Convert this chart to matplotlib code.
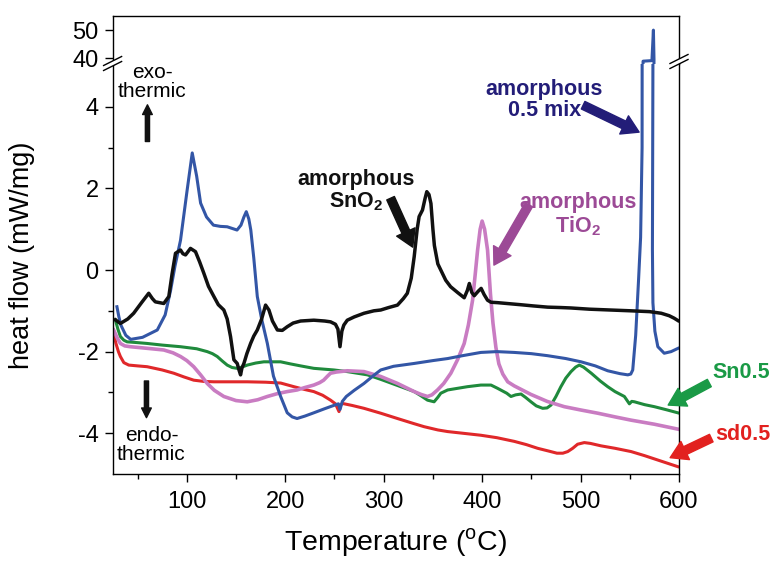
import matplotlib
matplotlib.use("Agg")
import matplotlib.pyplot as plt
from matplotlib.lines import Line2D
from matplotlib.patches import Polygon

# ---------------------------------------------------------------- data
black_x = [27.4, 32.5, 40, 46, 54, 61.3, 65, 68, 76.6, 81.7, 85, 88.5, 93.6, 96, 98.7, 103.7, 108.8,
           113, 117.3, 122, 127.5, 132, 137.6, 141, 144.4, 147.8, 151.2, 153, 154.6, 156, 158, 161,
           164.8, 168, 171.6, 176, 180, 183.4, 187, 192, 197, 202, 208, 215.6, 229, 240, 246, 251,
           253.5, 255.6, 257.5, 259.5, 263, 270, 280, 290, 297, 305, 314, 320, 324, 328, 331, 334,
           336, 339.4, 342, 343.8, 346, 348, 350, 351.5, 355, 358, 363, 368, 375, 381.8, 385, 387,
           389.5, 392, 396, 399, 402, 405.5, 409, 415.7, 425, 439, 452, 466.6, 480, 490, 509, 530,
           551.3, 570, 582, 590, 595, 599]
black_y = [-1.22, -1.31, -1.2, -1.06, -0.8, -0.57, -0.7, -0.78, -0.82, -0.65, -0.1, 0.41, 0.49, 0.4,
           0.37, 0.53, 0.45, 0.2, -0.08, -0.4, -0.65, -0.85, -0.98, -1.2, -1.63, -2.2, -2.29, -2.45,
           -2.57, -2.4, -2.29, -2.05, -1.8, -1.62, -1.47, -1.2, -0.86, -0.98, -1.25, -1.47, -1.48,
           -1.39, -1.3, -1.25, -1.23, -1.25, -1.27, -1.33, -1.45, -1.88, -1.5, -1.35, -1.23, -1.15,
           -1.06, -1.0, -0.98, -0.92, -0.86, -0.7, -0.57, -0.2, 0.33, 1.0, 1.31, 1.47, 1.75, 1.92,
           1.85, 1.63, 1.0, 0.6, 0.15, 0.0, -0.25, -0.41, -0.55, -0.68, -0.5, -0.33, -0.55, -0.63,
           -0.52, -0.45, -0.6, -0.74, -0.79, -0.8, -0.82, -0.85, -0.88, -0.91, -0.92, -0.93, -0.96,
           -0.98, -1.0, -1.02, -1.06, -1.12, -1.18, -1.24]

blue_x = [29, 31, 33, 38, 43, 55, 70, 78, 83.5, 88, 93.6, 100, 105.5, 110, 114, 120, 127, 134, 141,
          146, 151, 155, 158, 160.4, 163, 165, 168, 171.6, 176, 181.8, 188, 195.3, 202, 207, 212, 220,
          229, 240, 248, 254, 255.6, 258, 262, 270, 280, 290, 297, 310, 331, 350, 365, 380, 398.7,
          415, 432.6, 450, 466.6, 485, 500.5, 515, 527.6, 540, 548, 551, 553, 556, 559, 561, 562.5,
          563.5, 568, 572.5, 574, 574.6, 573.5, 573, 573.5, 575.5, 578.5, 585, 592, 599]
blue_y = [-0.9, -1.15, -1.35, -1.6, -1.7, -1.65, -1.47, -1.1, -0.5, 0.1, 0.73, 1.9, 2.87, 2.3, 1.64,
          1.3, 1.1, 1.07, 1.06, 1.02, 0.98, 1.1, 1.3, 1.43, 1.25, 0.98, 0.3, -0.65, -1.2, -1.8, -2.6,
          -3.1, -3.5, -3.6, -3.64, -3.58, -3.5, -3.4, -3.33, -3.28, -3.42, -3.22, -3.1, -2.95, -2.78,
          -2.58, -2.45, -2.36, -2.29, -2.22, -2.17, -2.1, -2.02, -2.0, -2.02, -2.05, -2.1, -2.17,
          -2.25, -2.35, -2.47, -2.54, -2.57, -2.55, -2.45, -1.6, -0.2, 0.8, 3.0, 39.0, 39.1, 39.2,
          50.0, 39.5, 5.0, 0.5, -0.8, -1.5, -1.88, -2.04, -2.0, -1.92]

green_x = [27.4, 30, 32.5, 36, 39.3, 50, 59.7, 75, 93.6, 110, 120.7, 126, 130.9, 136, 141, 146, 151.2,
           156, 161.4, 170, 178.3, 195.3, 205, 215.6, 229, 249.5, 263, 283.5, 297, 317.4, 331, 337.7,
           344.5, 351.2, 355, 358, 365, 385, 398.7, 409, 415.7, 425, 429.3, 434, 439.5, 444, 449.6,
           455, 461.5, 466, 470, 475, 480, 485, 490.3, 495, 498.7, 503, 510.9, 520, 527.6, 535,
           544.5, 549.6, 552, 554.7, 565, 575, 588, 598.8]
green_y = [-1.22, -1.45, -1.63, -1.72, -1.76, -1.78, -1.8, -1.84, -1.88, -1.93, -2.0, -2.05, -2.12,
           -2.23, -2.33, -2.39, -2.41, -2.38, -2.33, -2.28, -2.25, -2.25, -2.3, -2.35, -2.41, -2.45,
           -2.49, -2.57, -2.68, -2.86, -2.98, -3.08, -3.19, -3.23, -3.12, -3.02, -2.94, -2.86, -2.82,
           -2.82, -2.9, -3.02, -3.1, -3.06, -3.04, -3.12, -3.23, -3.33, -3.39, -3.38, -3.31, -3.1,
           -2.86, -2.65, -2.49, -2.38, -2.33, -2.38, -2.53, -2.72, -2.86, -2.98, -3.1, -3.28, -3.22,
           -3.23, -3.3, -3.35, -3.43, -3.5]

pink_x = [25.7, 29, 32.5, 37, 42.7, 60, 76.6, 86, 93.6, 100, 107, 114, 120.7, 128, 137.6, 150, 161.4,
          172, 181.8, 192, 202, 212, 220, 229, 235, 239, 243, 246, 252, 263, 280, 297, 314, 331, 338,
          344.5, 349, 354.7, 361, 368.2, 375, 381.8, 386, 390.3, 393, 395.4, 398, 400, 402.5, 405.5,
          408.5, 411, 414, 417, 421, 426, 432.6, 449.6, 466, 483.5, 500, 517.5, 535, 551.3, 575,
          598.8]
pink_y = [-1.47, -1.65, -1.8, -1.86, -1.88, -1.92, -1.96, -2.03, -2.12, -2.22, -2.37, -2.57, -2.78,
          -2.95, -3.1, -3.2, -3.23, -3.18, -3.1, -3.03, -2.98, -2.94, -2.88, -2.82, -2.76, -2.7, -2.6,
          -2.53, -2.5, -2.47, -2.49, -2.61, -2.78, -2.98, -3.05, -3.1, -3.06, -2.94, -2.78, -2.53,
          -2.2, -1.8, -1.35, -0.74, -0.1, 0.49, 1.0, 1.2, 1.0, 0.49, -0.6, -1.3, -1.9, -2.3, -2.55,
          -2.74, -2.84, -3.05, -3.22, -3.35, -3.43, -3.51, -3.6, -3.68, -3.78, -3.9]

red_x = [25.7, 28, 30.5, 32.5, 36, 41, 50, 59.7, 75, 86.8, 97, 107, 117, 127.5, 145, 161.4, 180,
         195.3, 208.8, 220, 229, 238, 246, 251, 254.6, 256.5, 258, 268, 280, 297, 314, 330, 341, 355,
         365, 380, 398.7, 415, 432.6, 445, 456.4, 468, 476, 482, 487, 492, 497, 503.8, 510, 520.8,
         535, 551.3, 565, 580, 598.8]
red_y = [-1.55, -1.8, -2.0, -2.12, -2.27, -2.33, -2.35, -2.37, -2.45, -2.53, -2.62, -2.7, -2.73,
         -2.74, -2.74, -2.74, -2.75, -2.77, -2.86, -2.93, -2.98, -3.07, -3.19, -3.28, -3.47, -3.3,
         -3.27, -3.32, -3.39, -3.51, -3.64, -3.76, -3.84, -3.92, -3.96, -4.0, -4.05, -4.11, -4.2,
         -4.28, -4.37, -4.44, -4.49, -4.49, -4.45, -4.37, -4.27, -4.23, -4.25, -4.31, -4.37, -4.45,
         -4.55, -4.67, -4.82]

x_ticks = [100, 200, 300, 400, 500, 600]
y_ticks_low = [-4, -2, 0, 2, 4]
y_ticks_high = [40, 50]

# ---------------------------------------------------------------- style
FONT = "Liberation Sans"
plt.rcParams["font.family"] = [FONT, "DejaVu Sans"]
plt.rcParams["mathtext.fontset"] = "custom"
plt.rcParams["mathtext.rm"] = FONT
plt.rcParams["mathtext.bf"] = FONT + ":bold"
plt.rcParams["axes.linewidth"] = 1.0
plt.rcParams["axes.unicode_minus"] = False

C_BLACK = "#111111"
C_BLUE = "#3356a6"
C_GREEN = "#1f8a3c"
C_RED = "#e0282a"
C_PINK = "#c97cc2"
C_NAVY = "#231d78"
C_MAGENTA = "#9c4a96"
C_GREEN_T = "#1a9a46"
C_RED_T = "#e2211f"

W, H = 771, 566
fig = plt.figure(figsize=(W / 100, H / 100), dpi=100)

left, right = 112.6 / W, 679 / W
y_bot, y_join, y_top = 1 - 474 / H, 1 - 64 / H, 1 - 16 / H
ax = fig.add_axes([left, y_bot, right - left, y_join - y_bot])
axt = fig.add_axes([left, y_join, right - left, y_top - y_join], sharex=ax)
axt.patch.set_alpha(0)

LW = 2.2
for a in (ax, axt):
    a.plot(red_x, red_y, color=C_RED, lw=LW)
    a.plot(green_x, green_y, color=C_GREEN, lw=LW)
    a.plot(pink_x, pink_y, color=C_PINK, lw=LW + 0.4)
    a.plot(blue_x, blue_y, color=C_BLUE, lw=LW)
    a.plot(black_x, black_y, color=C_BLACK, lw=LW + 0.3)

ax.set_xlim(24.6, 600)
ax.set_ylim(-5, 5.05)
axt.set_ylim(38, 55)

TICK_FS = 17
ax.set_xticks(x_ticks)
ax.set_xticks([50, 150, 250, 350, 450, 550], minor=True)
ax.set_yticks(y_ticks_low)
ax.set_yticks([-3, -1, 1, 3], minor=True)
ax.tick_params(axis="both", which="major", direction="out", length=6, width=1.0,
               labelsize=TICK_FS, pad=4)
ax.tick_params(axis="both", which="minor", direction="out", length=3.5, width=1.0)
ax.tick_params(axis="x", which="major", pad=6)
ax.spines["top"].set_visible(False)

axt.set_yticks(y_ticks_high)
axt.tick_params(axis="y", which="major", direction="out", length=6, width=1.0,
                labelsize=TICK_FS, pad=4)
axt.tick_params(axis="x", which="both", bottom=False, labelbottom=False)
axt.spines["bottom"].set_visible(False)

ax.set_xlabel(r"Temperature ($^{\rm o}$C)", fontsize=20.5, labelpad=10)
fig.text(22 / W, 1 - 255 / H, "heat flow (mW/mg)", rotation=90, fontsize=19.5,
         ha="center", va="center")

# axis-break marks on both side spines
def px(x, y):
    return (x / W, 1 - y / H)

for xc, yc in ((112.6, 63), (679, 61)):
    gap = Polygon([px(xc - 9, yc + 2.5), px(xc + 9, yc - 6.5), px(xc + 9, yc - 1.5),
                   px(xc - 9, yc + 7.5)], closed=True, transform=fig.transFigure,
                  facecolor="white", edgecolor="none", zorder=5)
    fig.add_artist(gap)
    for dy in (0, 5):
        p0, p1 = px(xc - 9, yc + 2.5 + dy), px(xc + 9, yc - 6.5 + dy)
        fig.add_artist(Line2D([p0[0], p1[0]], [p0[1], p1[1]], transform=fig.transFigure,
                              color="black", lw=1.0, zorder=6))

# exo / endo markers
SMALL_ARROW = "simple,head_length=0.7,head_width=0.7,tail_width=0.3"
ax.text(65, 4.6, "exo-\nthermic", ha="center", va="center", fontsize=15, linespacing=1.0)
ax.annotate("", xy=(60, 4.05), xytext=(60, 3.15),
            arrowprops=dict(arrowstyle=SMALL_ARROW, mutation_scale=10, color=C_BLACK,
                            shrinkA=0, shrinkB=0))
ax.text(64, -4.28, "endo-\nthermic", ha="center", va="center", fontsize=15, linespacing=1.0)
ax.annotate("", xy=(59, -3.62), xytext=(59, -2.72),
            arrowprops=dict(arrowstyle=SMALL_ARROW, mutation_scale=10, color=C_BLACK,
                            shrinkA=0, shrinkB=0))

ARROW = "simple,head_length=1.2,head_width=1.45,tail_width=0.6"

def label(text, xy_text, xy_tail, xy_tip, color, ha="center"):
    ax.text(*xy_text, text, ha=ha, va="center", fontsize=15.5, fontweight="bold",
            color=color, linespacing=1.05, clip_on=False)
    ax.annotate("", xy=xy_tip, xytext=xy_tail, annotation_clip=False,
                arrowprops=dict(arrowstyle=ARROW, mutation_scale=10, color=color,
                                shrinkA=0, shrinkB=0))

label("amorphous\n0.5 mix", (463, 4.17), (502.6, 4.04), (559.5, 3.38), C_NAVY)
label("amorphous\nSnO$_\\mathbf{2}$", (271.6, 1.94), (307, 1.76), (329.5, 0.56), C_BLACK)
label("amorphous\nTiO$_\\mathbf{2}$", (497, 1.35), (447.5, 1.6), (412, 0.12), C_MAGENTA)
label("Sn0.5", (663, -2.52), (630.8, -2.77), (589, -3.31), C_GREEN_T)
label("sd0.5", (665, -4.04), (632.8, -4.12), (591, -4.6), C_RED_T)

fig.savefig("out.png", dpi=100)
